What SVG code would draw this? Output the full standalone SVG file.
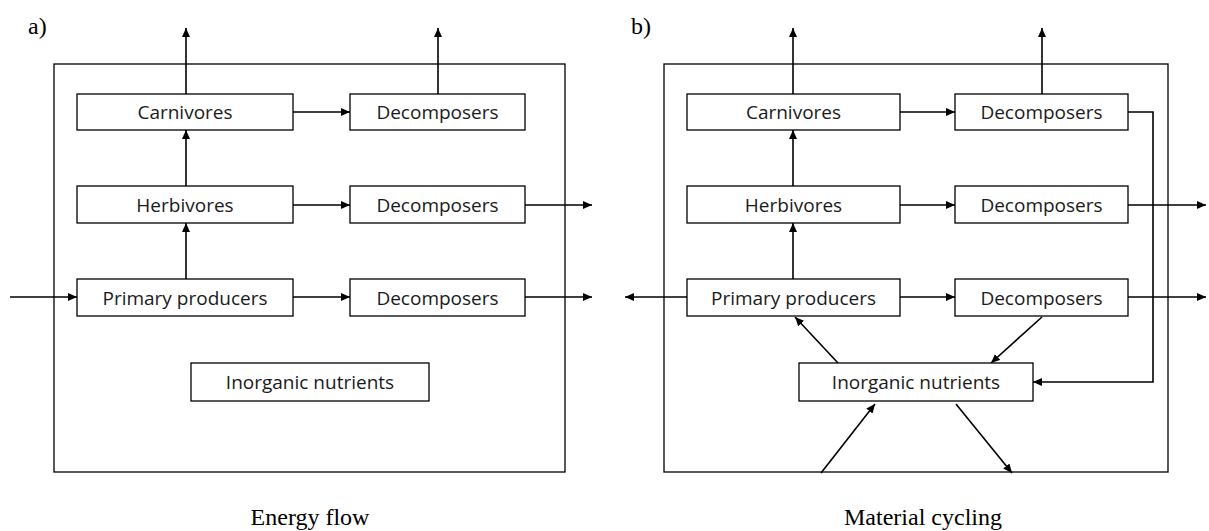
<svg xmlns="http://www.w3.org/2000/svg" width="1209" height="531" viewBox="0 0 1209 531">
<style>
.frame{fill:none;stroke:#000;stroke-width:1.3}
.box{fill:#fff;stroke:#000;stroke-width:1.3}
.lbl{font-family:"Open Sans","Noto Sans",sans-serif;font-size:19px;fill:#1a1a1a;text-anchor:middle}
.ser{font-family:"Liberation Serif","Times New Roman",serif;font-size:24px;fill:#000}
.c{fill:none;stroke:#000;stroke-width:1.6}
</style>
<defs>
<marker id="ah" markerUnits="userSpaceOnUse" markerWidth="10" markerHeight="8" refX="9" refY="4" orient="auto">
<path d="M0,0 L9,4 L0,8 Z" fill="#000"/>
</marker>
</defs>
<rect class="frame" x="54" y="64" width="511" height="408"/>
<rect class="frame" x="664" y="64" width="504" height="408"/>
<g id="labels">
<text class="ser" x="28" y="34">a)</text>
<text class="ser" x="631" y="34">b)</text>
<text class="ser" x="310" y="525" text-anchor="middle">Energy flow</text>
<text class="ser" x="923" y="525" text-anchor="middle">Material cycling</text>
</g>
<g id="connectors">
<path class="c" marker-end="url(#ah)" d="M186,94 V28"/>
<path class="c" marker-end="url(#ah)" d="M438,94 V28"/>
<path class="c" marker-end="url(#ah)" d="M186,186 V130"/>
<path class="c" marker-end="url(#ah)" d="M186,279 V223"/>
<path class="c" marker-end="url(#ah)" d="M293,112 H350"/>
<path class="c" marker-end="url(#ah)" d="M293,205 H350"/>
<path class="c" marker-end="url(#ah)" d="M293,297 H350"/>
<path class="c" marker-end="url(#ah)" d="M525,205 H592"/>
<path class="c" marker-end="url(#ah)" d="M525,297 H592"/>
<path class="c" marker-end="url(#ah)" d="M10,297 H77"/>
<path class="c" marker-end="url(#ah)" d="M793,94 V28"/>
<path class="c" marker-end="url(#ah)" d="M1042,94 V28"/>
<path class="c" marker-end="url(#ah)" d="M793,186 V130"/>
<path class="c" marker-end="url(#ah)" d="M793,279 V223"/>
<path class="c" marker-end="url(#ah)" d="M900,112 H955"/>
<path class="c" marker-end="url(#ah)" d="M900,205 H955"/>
<path class="c" marker-end="url(#ah)" d="M900,297 H955"/>
<path class="c" marker-end="url(#ah)" d="M1128,205 H1206"/>
<path class="c" marker-end="url(#ah)" d="M1128,297 H1206"/>
<path class="c" marker-end="url(#ah)" d="M687,297 H625"/>
<path class="c" marker-end="url(#ah)" d="M1128,112 H1153 V382 H1033"/>
<path class="c" marker-end="url(#ah)" d="M838,363 L795,317"/>
<path class="c" marker-end="url(#ah)" d="M1042,317 L991,363"/>
<path class="c" marker-end="url(#ah)" d="M821,473 L875,404"/>
<path class="c" marker-end="url(#ah)" d="M956,404 L1012,473"/>
</g>
<g id="a-carnivores"><rect class="box" x="77" y="94" width="216" height="36"/><text class="lbl" x="185" y="119">Carnivores</text></g>
<g id="a-decomposers1"><rect class="box" x="350" y="94" width="175" height="36"/><text class="lbl" x="437.5" y="119">Decomposers</text></g>
<g id="a-herbivores"><rect class="box" x="77" y="186" width="216" height="37"/><text class="lbl" x="185" y="211.5">Herbivores</text></g>
<g id="a-decomposers2"><rect class="box" x="350" y="186" width="175" height="37"/><text class="lbl" x="437.5" y="211.5">Decomposers</text></g>
<g id="a-producers"><rect class="box" x="77" y="279" width="216" height="37"/><text class="lbl" x="185" y="304.5">Primary producers</text></g>
<g id="a-decomposers3"><rect class="box" x="350" y="279" width="175" height="37"/><text class="lbl" x="437.5" y="304.5">Decomposers</text></g>
<g id="a-nutrients"><rect class="box" x="191" y="363" width="238" height="38"/><text class="lbl" x="310" y="389">Inorganic nutrients</text></g>
<g id="b-carnivores"><rect class="box" x="687" y="94" width="213" height="36"/><text class="lbl" x="793.5" y="119">Carnivores</text></g>
<g id="b-decomposers1"><rect class="box" x="955" y="94" width="173" height="36"/><text class="lbl" x="1041.5" y="119">Decomposers</text></g>
<g id="b-herbivores"><rect class="box" x="687" y="186" width="213" height="37"/><text class="lbl" x="793.5" y="211.5">Herbivores</text></g>
<g id="b-decomposers2"><rect class="box" x="955" y="186" width="173" height="37"/><text class="lbl" x="1041.5" y="211.5">Decomposers</text></g>
<g id="b-producers"><rect class="box" x="687" y="279" width="213" height="37"/><text class="lbl" x="793.5" y="304.5">Primary producers</text></g>
<g id="b-decomposers3"><rect class="box" x="955" y="279" width="173" height="37"/><text class="lbl" x="1041.5" y="304.5">Decomposers</text></g>
<g id="b-nutrients"><rect class="box" x="799" y="363" width="234" height="38"/><text class="lbl" x="916" y="389">Inorganic nutrients</text></g>
</svg>
